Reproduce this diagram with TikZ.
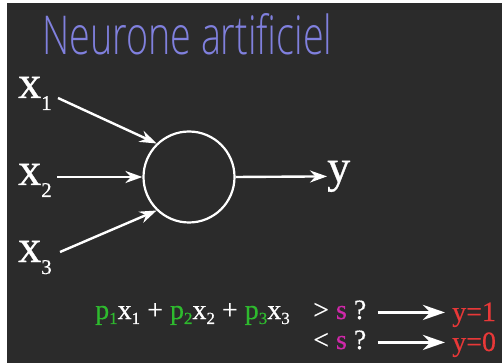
\documentclass[tikz,border=0pt]{standalone}
\usepackage{graphicx}
\usepackage{fontspec}
\setmainfont{Liberation Serif}
\newfontfamily\lblfont{Liberation Serif}[FakeBold=0.7]
\newfontfamily\frmfont{Liberation Serif}[FakeBold=0.4]
\newfontfamily\titlefont{Open Sans Light}
\usetikzlibrary{arrows.meta}
\definecolor{board}{RGB}{43,43,43}
\definecolor{titlec}{RGB}{128,128,222}
\definecolor{grn}{RGB}{46,186,46}
\definecolor{mag}{RGB}{208,40,170}
\definecolor{redc}{RGB}{232,56,56}
\newcommand{\bigsub}[2]{#1\raisebox{-12pt}{\fontsize{21}{21}\selectfont #2}}
\newcommand{\smsub}[2]{#1\raisebox{-5pt}{\fontsize{17}{17}\selectfont #2}}
\begin{document}
\begin{tikzpicture}[x=1pt,y=-1pt,
  lbl/.style={text=white, inner sep=0pt, anchor=base west, font=\lblfont\fontsize{46}{46}\selectfont},
  frm/.style={inner sep=0pt, anchor=base west, text=white, font=\frmfont\fontsize{28}{28}\selectfont},
  inarrow/.style={draw=white, line width=2.4pt, -{Stealth[length=17pt,width=12pt]}},
  outarrow/.style={draw=white, line width=3.5pt, -{Stealth[length=22pt,width=15pt]}},
  neuron/.style={circle, draw=white, line width=2.2pt, minimum size=91pt, inner sep=0pt}]
\fill[white] (0,0) rectangle (503,363);
\fill[board] (7,3) rectangle (502,363);
\useasboundingbox (0,0) rectangle (503,363);
% title
\node[anchor=base west, inner sep=0pt, text=titlec] (title) at (42,55)
  {\resizebox{290pt}{41pt}{\titlefont Neurone artificiel}};
% inputs and neuron
\node[lbl] (x1) at (18,98) {\bigsub{x}{1}};
\node[lbl] (x2) at (18,185) {\bigsub{x}{2}};
\node[lbl] (x3) at (18,262) {\bigsub{x}{3}};
\node[neuron] (n) at (189,177) {};
\node[lbl] (y) at (327,182) {y};
\coordinate (s1) at (58,98);
\coordinate (s2) at (57,177);
\coordinate (s3) at (60,252);
\draw[inarrow] (s1) -- (n.134);
\draw[inarrow] (s2) -- (n.west);
\draw[inarrow] (s3) -- (n.226);
\draw[inarrow] (n.east) -- (y.west);
% formula
\node[frm] (f) at (95,319) {\textcolor{grn}{\smsub{p}{1}}\smsub{x}{1} + \textcolor{grn}{\smsub{p}{2}}\smsub{x}{2} + \textcolor{grn}{\smsub{p}{3}}\smsub{x}{3}};
\node[frm] (c1) at (313,319) {> \textcolor{mag}{s} ?};
\node[frm] (c2) at (313,349) {< \textcolor{mag}{s} ?};
\node[frm, text=redc] (r1) at (452,321) {y=1};
\node[frm, text=redc] (r2) at (452,351) {y=0};
\draw[outarrow] ([xshift=11pt,yshift=-2.5pt]c1.east) -- ([xshift=-7pt,yshift=-2.5pt]c1.east -| r1.west);
\draw[outarrow] ([xshift=11pt,yshift=-2.5pt]c2.east) -- ([xshift=-7pt,yshift=-2.5pt]c2.east -| r2.west);
\end{tikzpicture}
\end{document}
